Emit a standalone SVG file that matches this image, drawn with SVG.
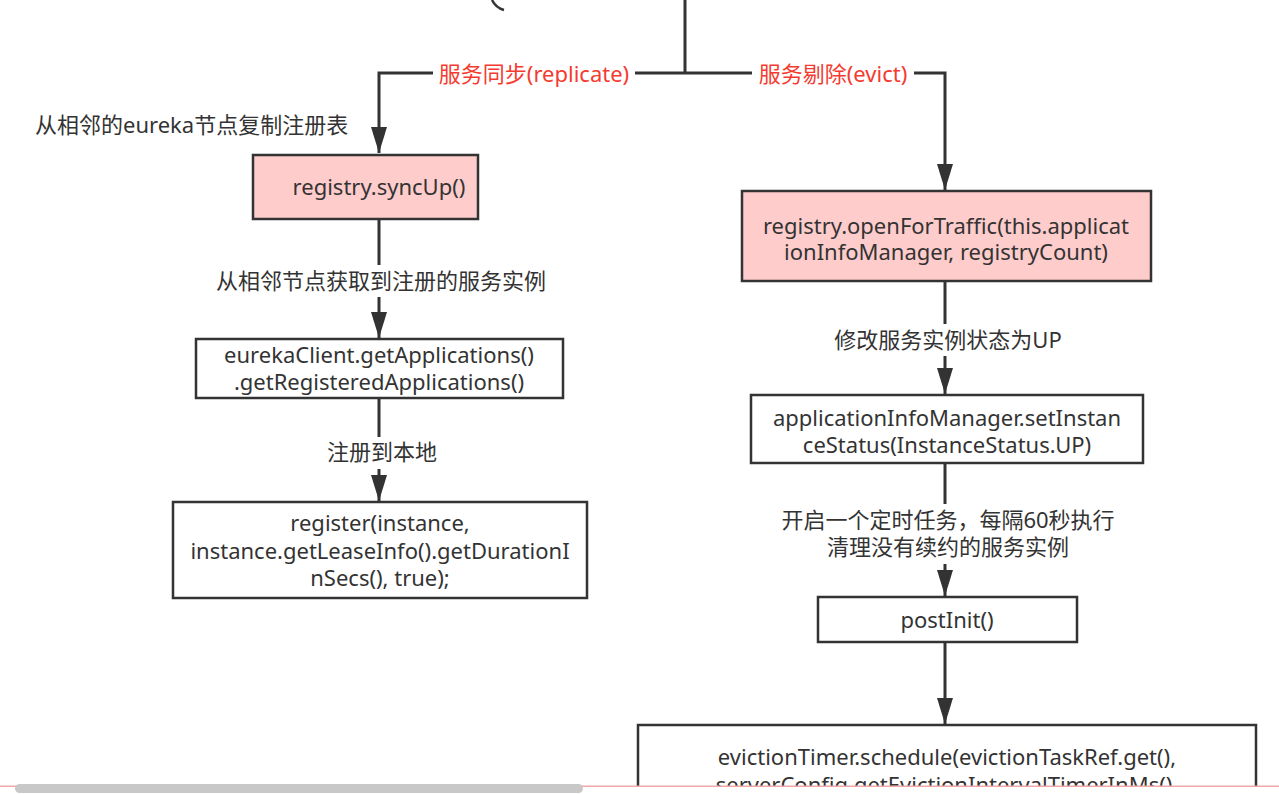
<svg xmlns="http://www.w3.org/2000/svg" width="1279" height="794" viewBox="0 0 1279 794">
<style>
.t{font-family:"Noto Sans","Noto Sans CJK SC",sans-serif;font-size:22px;fill:#333;text-anchor:middle}
.r{fill:#f53a30}
.box{fill:#fff;stroke:#333;stroke-width:2.5}
.pink{fill:#ffcccc}
.ln{fill:none;stroke:#333;stroke-width:3}
.bg{fill:#fff}
</style>
<defs>
<marker id="ah" markerUnits="userSpaceOnUse" markerWidth="28" markerHeight="18" refX="26" refY="8" orient="auto">
<path d="M0,0 L26,8 L0,16 z" fill="#333"/>
</marker>
</defs>
<rect width="1279" height="794" fill="#fff"/>
<path d="M492,0 Q496,8 504,10" fill="none" stroke="#333" stroke-width="2.5"/>
<g id="connectors">
<path class="ln" d="M685,0 V73"/>
<path class="ln" d="M685,73 H379 V153" marker-end="url(#ah)"/>
<path class="ln" d="M685,73 H945 V190" marker-end="url(#ah)"/>
<rect class="bg" x="433" y="59" width="202" height="30"/>
<text class="t r" x="534" y="82">服务同步(replicate)</text>
<rect class="bg" x="752" y="59" width="162" height="30"/>
<text class="t r" x="833" y="82">服务剔除(evict)</text>
<path class="ln" d="M379,219 V338" marker-end="url(#ah)"/>
<rect class="bg" x="212" y="265" width="338" height="32"/>
<text class="t" x="381" y="289">从相邻节点获取到注册的服务实例</text>
<path class="ln" d="M379,398 V501" marker-end="url(#ah)"/>
<rect class="bg" x="322" y="437" width="120" height="32"/>
<text class="t" x="382" y="460">注册到本地</text>
<path class="ln" d="M945,281 V394" marker-end="url(#ah)"/>
<rect class="bg" x="830" y="324" width="238" height="32"/>
<text class="t" x="948" y="348">修改服务实例状态为UP</text>
<path class="ln" d="M945,463 V596" marker-end="url(#ah)"/>
<rect class="bg" x="776" y="504" width="344" height="60"/>
<text class="t" x="948" y="528">开启一个定时任务，每隔60秒执行</text>
<text class="t" x="948" y="555">清理没有续约的服务实例</text>
<path class="ln" d="M945,642 V724" marker-end="url(#ah)"/>
</g>
<g id="note">
<text class="t" x="35" y="133" style="text-anchor:start">从相邻的eureka节点复制注册表</text>
</g>
<g id="syncUp">
<rect class="box pink" x="253" y="155" width="225" height="64"/>
<text class="t" x="379" y="195">registry.syncUp()</text>
</g>
<g id="getApps">
<rect class="box" x="196" y="339" width="367" height="59"/>
<text class="t" x="379" y="363">eurekaClient.getApplications()</text>
<text class="t" x="379" y="390">.getRegisteredApplications()</text>
</g>
<g id="register">
<rect class="box" x="173" y="502" width="414" height="96"/>
<text class="t" x="380" y="531">register(instance,</text>
<text class="t" x="380" y="559">instance.getLeaseInfo().getDurationI</text>
<text class="t" x="380" y="586">nSecs(), true);</text>
</g>
<g id="openForTraffic">
<rect class="box pink" x="742" y="191" width="409" height="90"/>
<text class="t" x="946" y="234">registry.openForTraffic(this.applicat</text>
<text class="t" x="946" y="260">ionInfoManager, registryCount)</text>
</g>
<g id="setStatus">
<rect class="box" x="751" y="395" width="392" height="68"/>
<text class="t" x="947" y="426">applicationInfoManager.setInstan</text>
<text class="t" x="947" y="453">ceStatus(InstanceStatus.UP)</text>
</g>
<g id="postInit">
<rect class="box" x="818" y="597" width="259" height="45"/>
<text class="t" x="947" y="628">postInit()</text>
</g>
<g id="evictionTimer">
<rect class="box" x="638" y="725" width="618" height="90"/>
<text class="t" x="947" y="765">evictionTimer.schedule(evictionTaskRef.get(),</text>
<text class="t" x="947" y="793">serverConfig.getEvictionIntervalTimerInMs(),</text>
</g>
<rect x="0" y="786" width="1279" height="8" fill="#fff"/>
<rect x="0" y="785.5" width="1279" height="1.5" fill="#f0a8a8"/>
<rect x="15" y="784" width="568" height="9" rx="4.5" fill="#c8c8c8"/>
</svg>
